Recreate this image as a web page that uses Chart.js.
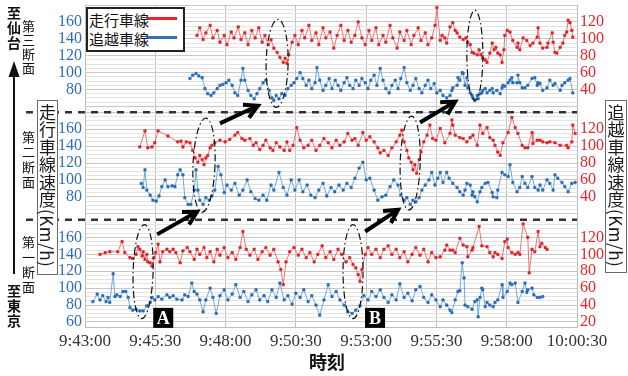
<!DOCTYPE html>
<html><head><meta charset="utf-8">
<script src="https://cdn.jsdelivr.net/npm/chart.js@4.4.1/dist/chart.umd.min.js"></script>
<style>
body{margin:0;background:#fff;}
#wrap{position:relative;width:628px;height:376px;overflow:hidden;font-family:"Noto Sans CJK JP",sans-serif;background:#fff;}
canvas{position:absolute;left:0;top:0;}
.vt{position:absolute;writing-mode:vertical-rl;line-height:1;color:#111;font-family:"Noto Sans CJK JP",sans-serif;}
.box{position:absolute;border:1.5px solid #6a6a6a;background:#fff;box-sizing:border-box;}
.box .vt{left:50%;transform:translateX(-50%);top:3px;font-size:17px;letter-spacing:0.5px;color:#1a1a1a;}
#legend{position:absolute;left:86px;top:7px;width:99px;height:45px;border:2px solid #222;background:#fff;box-sizing:border-box;}
#legend .lt{position:absolute;left:1px;font-size:15px;line-height:19px;color:#111;}
#legend .ll{position:absolute;left:60px;width:29px;height:3px;}
#xt{position:absolute;left:277px;width:100px;top:349px;text-align:center;font-size:18px;font-weight:700;line-height:24px;color:#111;}
</style></head><body>
<div id="wrap">
<canvas id="c" width="628" height="376"></canvas>
<div class="vt" style="left:7px;top:6px;font-size:14px;font-weight:600;letter-spacing:1px;">至仙台</div>
<div class="vt" style="left:7px;top:284px;font-size:14px;font-weight:600;letter-spacing:1px;">至東京</div>
<div class="vt" style="left:22px;top:20px;font-size:13px;letter-spacing:1px;">第三断面</div>
<div class="vt" style="left:22px;top:131px;font-size:13px;letter-spacing:2px;">第二断面</div>
<div class="vt" style="left:22px;top:236px;font-size:13px;letter-spacing:2px;">第一断面</div>
<div class="box" style="left:37px;top:100px;width:21px;height:175px;"><div class="vt">走行車線速度(Km/h)</div></div>
<div class="box" style="left:605px;top:100px;width:22px;height:173px;"><div class="vt">追越車線速度(Km/h)</div></div>
<div id="legend"></div>
<div id="xt">時刻</div>
</div>
<script>
// ---- data (time = seconds after 9:43:00) ----
const T0 = 9*3600 + 43*60;
const seriesNames = ['走行車線', '追越車線'];
const seriesColors = ['#e8262b', '#2e75b6'];

// 第一断面 (bottom)
const p1RedT = [32,43,53,70,79,85,96,102,109,113,
117,122,124,128,132,134,139,143,147,151,
156,160,166,175,181,188,194,203,209,218,
224,233,239,245,254,260,267,275,282,288,
297,305,314,322,331,337,344,352,361,369,
378,386,395,403,412,418,423,429,437,446,
455,463,472,480,489,497,506,514,523,531,
540,548,557,565,572,578,583,587,591,598,
604,612,621,630,638,647,655,664,672,681,
689,698,706,715,723,732,740,749,758,768,
772,779,785,790,800,807,815,817,826,828,
841,847,858,864,871,875,881,890,896,901,
903,911,918,924,928,935,945,948,954,960,
967,971,975,982,986];
const p1RedV = [100,102,103,103,115,102,96,95,100,109,
106,98,103,94,100,91,90,86,96,102,
112,91,103,106,103,106,102,90,104,108,
103,94,106,100,108,96,103,91,106,99,
108,96,102,94,108,127,106,99,106,94,
103,108,99,106,91,82,64,91,103,108,
99,106,96,102,91,100,110,96,103,94,
106,100,91,96,88,84,76,68,82,100,
108,100,106,96,106,110,100,106,96,103,
91,100,108,99,106,91,102,96,97,105,
111,105,105,102,119,111,109,97,105,108,
133,110,109,102,97,102,100,95,115,118,
108,102,100,102,100,136,120,78,106,103,
127,109,113,108,106];
const p1BlueT = [17,26,32,38,45,49,53,60,64,68,
75,81,87,92,96,102,109,117,124,132,
139,143,149,156,164,175,181,188,196,207,
213,220,228,233,239,245,252,258,267,273,
280,288,297,305,314,322,331,339,348,356,
365,373,382,390,399,408,416,425,433,442,
450,459,467,476,484,493,501,510,519,527,
536,544,553,561,570,578,587,595,604,612,
621,630,638,647,655,664,672,681,689,698,
706,715,723,732,740,749,758,764,772,779,
783,790,796,800,805,809,811,817,826,832,
837,839,843,847,849,854,858,864,871,875,
881,890,892,901,907,911,918,924,933,939,
943,945,954,958,965,971,977];
const p1BlueV = [84,93,86,91,84,89,83,117,90,92,
90,96,96,89,77,74,75,73,73,79,
83,89,86,90,87,92,89,91,87,86,
92,90,106,96,93,86,72,86,100,89,
70,91,98,86,93,104,89,96,84,92,
98,86,91,84,98,89,106,86,91,81,
94,89,98,84,91,80,68,86,104,90,
96,86,80,72,70,74,79,91,86,96,
90,98,89,83,92,86,105,89,94,85,
98,102,89,83,92,86,78,86,80,74,
71,86,96,97,130,112,80,78,75,84,
86,66,89,100,98,78,83,80,78,83,
86,104,89,96,106,104,106,83,96,106,
95,98,100,92,89,89,90];

// 第二断面 (middle)
const p2RedT = [117,128,134,143,149,156,177,198,205,209,
216,224,230,235,241,245,250,254,258,262,
267,271,277,288,299,309,320,326,335,341,
352,359,365,373,380,386,395,401,408,416,
425,431,437,444,452,459,467,476,484,493,
501,510,519,527,536,544,553,561,570,576,
583,593,600,608,617,625,630,638,647,655,
664,672,676,681,687,691,696,700,704,708,
713,717,723,730,736,742,749,758,768,779,
783,785,790,800,807,815,822,828,837,843,
849,858,864,871,875,881,886,892,903,911,
918,924,933,939,945,954,956,965,971,977,
986,992,1003,1014,1028,1031,1039,1041,1046];
const p2RedV = [99,118,98,99,104,118,112,105,106,99,
105,104,95,86,81,89,84,78,86,89,
98,101,104,107,105,108,113,116,109,107,
109,101,104,96,101,107,98,95,104,99,
95,105,95,101,122,107,98,101,107,95,
101,109,104,98,107,101,105,115,107,109,
101,116,107,111,105,98,92,95,89,98,
105,113,119,105,95,86,81,72,78,68,
84,93,105,113,125,109,107,121,104,115,
131,125,113,110,109,105,110,113,101,125,
115,122,110,107,101,93,89,104,116,134,
122,115,101,98,98,116,103,107,107,105,
104,105,104,101,101,98,105,125,115];
const p2BlueT = [120,124,128,132,139,145,152,158,164,171,
177,186,192,198,203,209,213,220,226,233,
237,241,245,252,258,265,271,277,284,290,
297,303,312,320,329,337,346,354,363,371,
380,388,397,403,414,423,431,440,448,457,
465,474,482,491,499,508,516,525,533,542,
551,559,568,576,585,593,600,608,617,625,
634,642,651,659,668,674,681,687,694,700,
706,713,719,726,734,740,747,753,758,764,
772,777,785,794,800,807,811,815,822,826,
828,832,837,843,847,854,860,869,871,879,
881,890,896,903,907,913,922,928,933,939,
945,954,960,967,971,977,986,992,999,1003,
1009,1018,1024,1031,1039,1046];
const p2BlueV = [96,91,112,88,82,76,75,81,92,100,
92,93,92,106,112,106,79,71,71,88,
112,88,76,71,79,76,81,88,116,106,
85,94,88,96,82,88,100,86,78,76,
82,76,94,88,109,91,82,100,88,100,
86,94,82,79,88,96,81,91,86,94,
88,96,91,102,114,121,100,102,88,76,
80,82,92,100,94,82,76,79,71,76,
74,79,88,94,100,109,94,102,109,97,
109,102,96,91,86,82,88,96,94,82,
86,80,74,86,91,96,97,85,80,79,
88,109,106,104,118,97,86,91,104,96,
91,104,91,88,94,88,100,96,88,106,
102,97,92,86,96,97];

// 第三断面 (top)
const p3RedT = [239,245,252,258,267,273,282,288,297,303,
312,318,327,333,341,348,356,363,371,378,
384,391,397,403,410,416,423,427,431,435,
442,448,455,463,469,478,484,493,499,508,
514,523,531,538,546,553,561,568,576,583,
591,598,606,612,621,627,636,642,651,657,
666,672,681,687,696,702,711,717,726,732,
740,747,751,758,762,768,772,779,785,790,
794,800,807,813,817,822,826,830,837,841,
845,849,854,858,864,869,873,877,881,886,
890,894,896,901,907,913,922,924,928,935,
943,950,956,965,967,971,977,986,988,997,
999,1003,1007,1014,1020,1024,1028,1031,1035,1039,
1041];
const p3RedV = [104,113,99,107,116,101,110,96,104,93,
108,101,114,99,107,93,110,101,113,96,
104,93,99,89,84,78,72,77,71,81,
96,104,93,110,101,116,98,107,93,113,
101,108,89,104,116,98,110,96,104,120,
101,93,110,98,113,93,104,96,116,101,
89,108,98,110,93,104,113,98,107,93,
101,116,137,98,104,101,95,114,119,110,
107,102,99,101,96,93,84,83,81,87,
81,77,75,72,83,95,87,90,83,81,
72,87,104,110,108,98,90,95,87,101,
98,92,95,102,113,95,89,90,95,107,
96,84,83,90,95,104,108,122,119,110,
102];
const p3BlueT = [224,230,237,243,250,256,262,269,275,282,
288,294,301,307,314,320,326,333,337,341,
348,354,361,367,373,380,386,393,399,403,
408,414,420,427,433,440,446,452,459,465,
472,478,484,491,495,501,508,514,521,527,
534,540,546,553,559,565,572,578,585,591,
598,604,610,617,623,630,636,642,649,655,
662,668,674,681,687,694,700,706,713,719,
726,732,738,745,751,758,764,772,779,783,
785,794,796,800,805,807,811,815,817,822,
826,828,832,837,839,843,847,849,854,858,
864,869,871,879,886,890,892,896,903,907,
911,913,922,924,928,933,939,945,954,960,
965,967,971,977,986,992,999,1003,1014,1018,
1024,1031,1035,1041];
const p3BlueV = [93,97,99,96,94,81,75,73,76,81,
85,86,88,91,85,76,73,91,105,91,
79,73,69,75,81,88,91,79,70,67,
73,69,75,73,81,85,88,93,100,93,
85,91,81,88,106,91,79,85,93,81,
91,85,79,88,94,85,81,91,85,93,
88,81,91,97,85,105,91,81,76,85,
91,81,93,106,88,79,85,93,81,76,
85,91,81,87,76,79,73,70,73,79,
82,85,94,91,100,99,85,94,82,76,
73,70,67,73,69,75,76,79,81,76,
79,81,76,79,75,82,85,84,88,91,
94,88,88,97,88,82,82,85,93,94,
85,88,87,79,82,91,85,87,79,85,
88,91,93,76];

// ---- helpers ----
const pts = (T, V) => T.map((t, i) => ({x: t, y: V[i]}));
const fmt = s => { const t = T0 + s; const h = Math.floor(t/3600), m = Math.floor(t%3600/60), sec = t%60;
  return h + ':' + String(m).padStart(2,'0') + ':' + String(sec).padStart(2,'0'); };
const RED_LINE = 'rgba(236,92,92,0.85)', RED_PT = '#e0232a';
const BLUE_LINE = 'rgba(98,158,214,0.9)', BLUE_PT = '#2a6cb6';
function ds(label, T, V, axis, red) {
  return { label, data: pts(T, V), yAxisID: axis, borderColor: red ? RED_LINE : BLUE_LINE, borderWidth: 1,
    pointStyle: 'rect', pointRadius: 1.6, pointBorderWidth: 0.8,
    pointBackgroundColor: red ? RED_PT : BLUE_PT, pointBorderColor: red ? RED_PT : BLUE_PT, tension: 0 };
}
function yAxis(pos, min, max, weight, lo, hi, color, grid) {
  return {
    type: 'linear', position: pos, stack: pos, stackWeight: 1, weight, min, max,
    ticks: { stepSize: 5, autoSkip: false, color, padding: 3, font: {family: 'Liberation Serif', size: 16},
      callback: v => (v % 20 === 0 && v >= lo && v <= hi) ? String(v) : '' },
    grid: grid ? { drawTicks: false, lineWidth: 1,
      color: c => { const v = c.tick.value; if (v % 5 !== 0) return 'rgba(0,0,0,0)'; return v % 20 === 0 ? '#c8c8c8' : '#e4e4e4'; } }
      : { display: false, drawTicks: false },
    border: { display: true, color: '#bdbdbd' },
    afterFit: s => { s.width = pos === 'left' ? 85 : 51; s.paddingTop = 0; s.paddingBottom = 0; }
  };
}

// annotations (ellipses, arrows, labels) placed via scales
const ellipses = [
  {t:124, ax:'yL1', v:119.5, rx:10, ry:47, rot:0.03},
  {t:572, ax:'yL1', v:119.5, rx:10, ry:47, rot:0.0},
  {t:254, ax:'yL2', v:117.6, rx:11, ry:47, rot:0.04},
  {t:694, ax:'yL2', v:120, rx:10, ry:47, rot:0.03},
  {t:410, ax:'yL3', v:111, rx:11, ry:44, rot:0.02},
  {t:832, ax:'yL3', v:120.6, rx:8, ry:45, rot:0.0}
];
const arrows = [
  {t1:154, a1:'yL1', v1:163.6, t2:239, a2:'yL2', v2:62.4},
  {t1:288, a1:'yL2', v1:167, t2:369, a2:'yL3', v2:60.9},
  {t1:598, a1:'yL1', v1:167, t2:668, a2:'yL2', v2:64.7},
  {t1:715, a1:'yL2', v1:168, t2:790, a2:'yL3', v2:65.7}
];
const marks = [{t:167, ax:'yL1', v:64.8, text:'A'}, {t:619, ax:'yL1', v:64.8, text:'B'}];

const overlay = {
  id: 'overlay',
  afterDraw(chart) {
    const ctx = chart.ctx, S = chart.scales, ca = chart.chartArea;
    const P = (t, ax, v) => [S.x.getPixelForValue(t), S[ax].getPixelForValue(v)];
    ctx.save();
    // panel separators
    ctx.strokeStyle = '#333'; ctx.lineWidth = 2.5; ctx.setLineDash([7, 6]);
    [S.yL3.bottom, S.yL2.bottom].forEach(y => { ctx.beginPath(); ctx.moveTo(26, y); ctx.lineTo(ca.right, y); ctx.stroke(); });
    // ellipses
    ctx.setLineDash([7, 3, 1.5, 3]); ctx.lineWidth = 1.2; ctx.strokeStyle = '#111';
    ellipses.forEach(e => { const [cx, cy] = P(e.t, e.ax, e.v); ctx.beginPath(); ctx.ellipse(cx, cy, e.rx, e.ry, e.rot, 0, Math.PI*2); ctx.stroke(); });
    // arrows
    ctx.setLineDash([]); ctx.lineWidth = 4; ctx.strokeStyle = '#000'; ctx.lineJoin = 'miter'; ctx.lineCap = 'butt';
    arrows.forEach(a => {
      const [x1, y1] = P(a.t1, a.a1, a.v1), [x2, y2] = P(a.t2, a.a2, a.v2);
      const ang = Math.atan2(y2 - y1, x2 - x1), L = 15, w = 0.5;
      ctx.beginPath(); ctx.moveTo(x1, y1); ctx.lineTo(x2 - 2*Math.cos(ang), y2 - 2*Math.sin(ang)); ctx.stroke();
      ctx.beginPath();
      ctx.moveTo(x2 - L*Math.cos(ang - w), y2 - L*Math.sin(ang - w));
      ctx.lineTo(x2, y2);
      ctx.lineTo(x2 - L*Math.cos(ang + w), y2 - L*Math.sin(ang + w));
      ctx.stroke();
    });
    // A / B labels
    marks.forEach(m => {
      const [cx, cy] = P(m.t, m.ax, m.v);
      ctx.fillStyle = '#000'; ctx.fillRect(cx - 10, cy - 10, 20, 20);
      ctx.fillStyle = '#fff'; ctx.font = 'bold 18px "Liberation Serif"'; ctx.textAlign = 'center'; ctx.textBaseline = 'middle';
      ctx.fillText(m.text, cx, cy + 1);
    });
    // direction arrow on the far left
    ctx.strokeStyle = '#111'; ctx.lineWidth = 2;
    ctx.beginPath(); ctx.moveTo(14, 74); ctx.lineTo(14, 274); ctx.stroke();
    ctx.fillStyle = '#111'; ctx.beginPath(); ctx.moveTo(14, 61); ctx.lineTo(8.5, 77); ctx.lineTo(19.5, 77); ctx.closePath(); ctx.fill();
    ctx.restore();
  }
};

// legend (HTML)
const lg = document.getElementById('legend');
seriesNames.forEach((n, i) => {
  const t = document.createElement('div'); t.className = 'lt'; t.style.top = (1 + i*19) + 'px'; t.textContent = n; lg.appendChild(t);
  const l = document.createElement('div'); l.className = 'll'; l.style.top = (8 + i*19) + 'px'; l.style.background = seriesColors[i]; lg.appendChild(l);
});

const TICK_BLUE = '#2f6db8', TICK_RED = '#e8262b';
new Chart(document.getElementById('c'), {
  type: 'line',
  data: { datasets: [
    ds(seriesNames[0] + '3', p3RedT, p3RedV, 'yR3', true),
    ds(seriesNames[1] + '3', p3BlueT, p3BlueV, 'yL3', false),
    ds(seriesNames[0] + '2', p2RedT, p2RedV, 'yR2', true),
    ds(seriesNames[1] + '2', p2BlueT, p2BlueV, 'yL2', false),
    ds(seriesNames[0] + '1', p1RedT, p1RedV, 'yR1', true),
    ds(seriesNames[1] + '1', p1BlueT, p1BlueV, 'yL1', false)
  ]},
  options: {
    responsive: false, animation: false, devicePixelRatio: 1,
    layout: { padding: {top: 5, left: 0, right: 0, bottom: 0} },
    plugins: { legend: {display: false}, tooltip: {enabled: false} },
    scales: {
      x: { type: 'linear', position: 'bottom', min: 0, max: 1050,
        ticks: { stepSize: 150, autoSkip: false, maxRotation: 0, color: '#333', padding: 4,
          font: {family: 'Liberation Serif', size: 17}, callback: v => fmt(v) },
        grid: { drawTicks: false, color: '#c2c2c2' }, border: {color: '#bdbdbd'},
        afterFit: s => { s.height = 49; s.paddingLeft = 0; s.paddingRight = 0; } },
      yL3: yAxis('left', 53, 180, 3, 80, 160, TICK_BLUE, true),
      yL2: yAxis('left', 53, 180, 2, 80, 160, TICK_BLUE, true),
      yL1: yAxis('left', 54, 181, 1, 60, 160, TICK_BLUE, true),
      yR3: yAxis('right', 13, 140, 1, 40, 120, TICK_RED, false),
      yR2: yAxis('right', 13, 140, 2, 40, 120, TICK_RED, false),
      yR1: yAxis('right', 14, 141, 3, 20, 120, TICK_RED, false)
    }
  },
  plugins: [overlay]
});
</script>
</body></html>
